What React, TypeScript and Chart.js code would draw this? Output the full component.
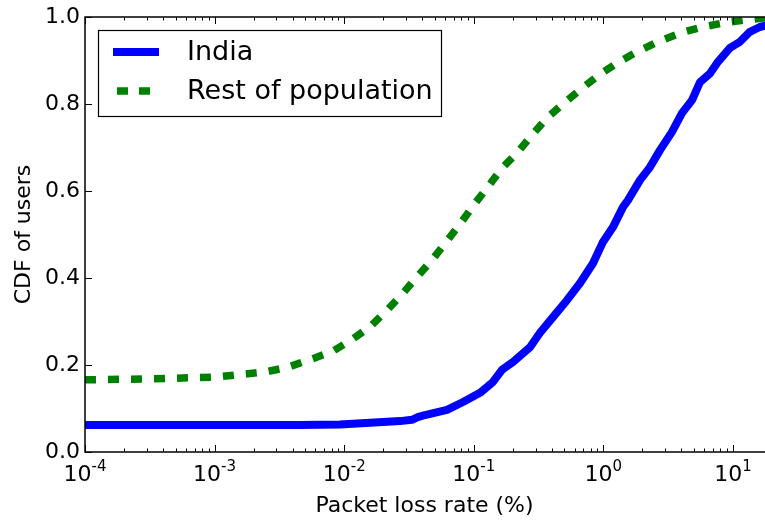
import React, { useEffect, useRef } from "react";
import { Chart, registerables } from "chart.js";

Chart.register(...registerables);

// Packet loss rate (%) sample points and the CDF of users at each one
const indiaLoss = [
  1e-4, 0.001, 0.00456, 0.0093, 0.0158, 0.027, 0.0333, 0.037, 0.042, 0.0621,
  0.0826, 0.1117, 0.1406, 0.165, 0.2006, 0.2714, 0.3243, 0.4083, 0.5236,
  0.6592, 0.8318, 0.993, 1.186, 1.416, 1.549, 1.916, 2.29, 2.735, 3.383, 4.04,
  4.83, 5.56, 6.64, 7.66, 9.48, 11.3, 13.5, 16.1, 17.7, 20,
];
const indiaCdf = [
  0.062, 0.062, 0.062, 0.063, 0.067, 0.071, 0.074, 0.08, 0.085, 0.097, 0.115,
  0.136, 0.161, 0.189, 0.207, 0.241, 0.274, 0.31, 0.349, 0.388, 0.434, 0.483,
  0.517, 0.563, 0.579, 0.625, 0.655, 0.694, 0.736, 0.779, 0.809, 0.85, 0.87,
  0.897, 0.929, 0.943, 0.966, 0.977, 0.98, 0.985,
];

const restLoss = [
  1e-4, 0.0003, 0.001, 0.00245, 0.00368, 0.00565, 0.0082, 0.0117, 0.0161,
  0.0214, 0.0284, 0.0371, 0.0484, 0.0621, 0.0796, 0.1, 0.129, 0.162, 0.215,
  0.276, 0.367, 0.488, 0.671, 0.925, 1.27, 1.82, 2.64, 3.9, 5.77, 8.38, 12.4,
  17.7, 20,
];
const restCdf = [
  0.166, 0.168, 0.172, 0.184, 0.195, 0.214, 0.232, 0.26, 0.29, 0.326, 0.365,
  0.405, 0.444, 0.485, 0.527, 0.568, 0.61, 0.65, 0.687, 0.726, 0.768, 0.8,
  0.834, 0.867, 0.894, 0.92, 0.943, 0.963, 0.977, 0.986, 0.993, 0.998, 0.999,
];

const xMin = 1e-4;
const xMax = 20;
const xTickExponents = [-4, -3, -2, -1, 0, 1];
const yTicks = [0, 0.2, 0.4, 0.6, 0.8, 1.0];
const yTickLabels = ["0.0", "0.2", "0.4", "0.6", "0.8", "1.0"];
const seriesNames = ["India", "Rest of population"];
const xTitle = "Packet loss rate (%)";
const yTitle = "CDF of users";

const FONT = "'DejaVu Sans', sans-serif";
const BLUE = "#0000ff";
const GREEN = "#008000";
const DASH = [11, 12];

// Frame, inward ticks, tick labels, axis titles and the boxed legend
const axesPlugin = {
  id: "axesDecor",
  afterDatasetsDraw(chart: any) {
    const { ctx, chartArea, scales } = chart;
    const { left, right, top, bottom } = chartArea;
    const x = scales.x;
    const y = scales.y;
    ctx.save();
    ctx.strokeStyle = "#000";
    ctx.fillStyle = "#000";
    ctx.lineWidth = 1;

    // log ticks on bottom and top
    for (let e = -4; e <= 1; e++) {
      for (let m = 1; m <= 9; m++) {
        const v = m * Math.pow(10, e);
        if (v < xMin || v > xMax) continue;
        const px = Math.round(x.getPixelForValue(v)) + 0.5;
        const len = m === 1 ? 7 : 3.5;
        ctx.beginPath();
        ctx.moveTo(px, bottom);
        ctx.lineTo(px, bottom - len);
        ctx.moveTo(px, top);
        ctx.lineTo(px, top + len);
        ctx.stroke();
      }
    }
    // y ticks on left and right
    for (const v of yTicks) {
      const py = Math.round(y.getPixelForValue(v)) + 0.5;
      ctx.beginPath();
      ctx.moveTo(left, py);
      ctx.lineTo(left + 7, py);
      ctx.moveTo(right, py);
      ctx.lineTo(right - 7, py);
      ctx.stroke();
    }

    // frame
    ctx.lineWidth = 1.5;
    ctx.strokeRect(left, top, right - left, bottom - top);

    // x tick labels 10^e
    for (const e of xTickExponents) {
      const px = x.getPixelForValue(Math.pow(10, e));
      ctx.font = `22px ${FONT}`;
      const base = "10";
      const wb = ctx.measureText(base).width;
      ctx.font = `15px ${FONT}`;
      const sup = String(e);
      const ws = ctx.measureText(sup).width;
      const start = px - (wb + ws) / 2;
      ctx.textAlign = "left";
      ctx.textBaseline = "alphabetic";
      ctx.font = `22px ${FONT}`;
      ctx.fillText(base, start, 481);
      ctx.font = `15px ${FONT}`;
      ctx.fillText(sup, start + wb, 471);
    }

    // y tick labels
    ctx.font = `22px ${FONT}`;
    ctx.textAlign = "right";
    ctx.textBaseline = "middle";
    yTicks.forEach((v, i) => {
      ctx.fillText(yTickLabels[i], 80, y.getPixelForValue(v));
    });

    // axis titles
    ctx.textAlign = "center";
    ctx.textBaseline = "alphabetic";
    ctx.fillText(xTitle, (left + right) / 2 - 4, 512);
    ctx.save();
    ctx.translate(30, (top + bottom) / 2);
    ctx.rotate(-Math.PI / 2);
    ctx.fillText(yTitle, 0, 0);
    ctx.restore();

    // legend
    ctx.fillStyle = "#fff";
    ctx.fillRect(98, 30, 344, 87);
    ctx.lineWidth = 1.2;
    ctx.strokeStyle = "#000";
    ctx.strokeRect(98.5, 30.5, 343, 86);

    ctx.lineCap = "butt";
    ctx.lineWidth = 8;
    ctx.strokeStyle = BLUE;
    ctx.beginPath();
    ctx.moveTo(113, 52);
    ctx.lineTo(159, 52);
    ctx.stroke();

    ctx.lineWidth = 7.5;
    ctx.strokeStyle = GREEN;
    ctx.setLineDash([11, 11]);
    ctx.beginPath();
    ctx.moveTo(117, 91);
    ctx.lineTo(159, 91);
    ctx.stroke();
    ctx.setLineDash([]);

    ctx.fillStyle = "#000";
    ctx.font = `27px ${FONT}`;
    ctx.textAlign = "left";
    ctx.textBaseline = "middle";
    ctx.fillText(seriesNames[0], 187, 53);
    ctx.fillText(seriesNames[1], 187, 92);

    ctx.restore();
  },
};

export default function App() {
  const canvasRef = useRef<HTMLCanvasElement | null>(null);

  useEffect(() => {
    const canvas = canvasRef.current;
    if (!canvas) return;
    const chart = new Chart(canvas, {
      type: "line",
      data: {
        datasets: [
          {
            label: seriesNames[0],
            data: indiaLoss.map((v, i) => ({ x: v, y: indiaCdf[i] })),
            borderColor: BLUE,
            borderWidth: 8,
            borderJoinStyle: "round",
            borderCapStyle: "butt",
            pointRadius: 0,
            tension: 0,
            fill: false,
          },
          {
            label: seriesNames[1],
            data: restLoss.map((v, i) => ({ x: v, y: restCdf[i] })),
            borderColor: GREEN,
            borderWidth: 7.5,
            borderDash: DASH,
            borderJoinStyle: "round",
            borderCapStyle: "butt",
            pointRadius: 0,
            tension: 0,
            fill: false,
          },
        ],
      },
      options: {
        responsive: false,
        animation: false,
        devicePixelRatio: 1,
        layout: { padding: { top: 17, right: 8, left: 0, bottom: 0 } },
        plugins: {
          legend: { display: false },
          tooltip: { enabled: false },
        },
        scales: {
          x: {
            type: "logarithmic",
            min: xMin,
            max: xMax,
            grid: { display: false },
            border: { display: false },
            ticks: { display: false },
            afterFit: (scale: any) => {
              scale.height = 69;
            },
          },
          y: {
            type: "linear",
            min: 0,
            max: 1,
            grid: { display: false },
            border: { display: false },
            ticks: { display: false },
            afterFit: (scale: any) => {
              scale.width = 85;
            },
          },
        },
      },
      plugins: [axesPlugin],
    });
    return () => chart.destroy();
  }, []);

  return (
    <div
      style={{
        position: "fixed",
        left: 0,
        top: 0,
        width: 765,
        height: 521,
        overflow: "hidden",
        background: "#fff",
      }}
    >
      <canvas ref={canvasRef} width={780} height={521} />
    </div>
  );
}
